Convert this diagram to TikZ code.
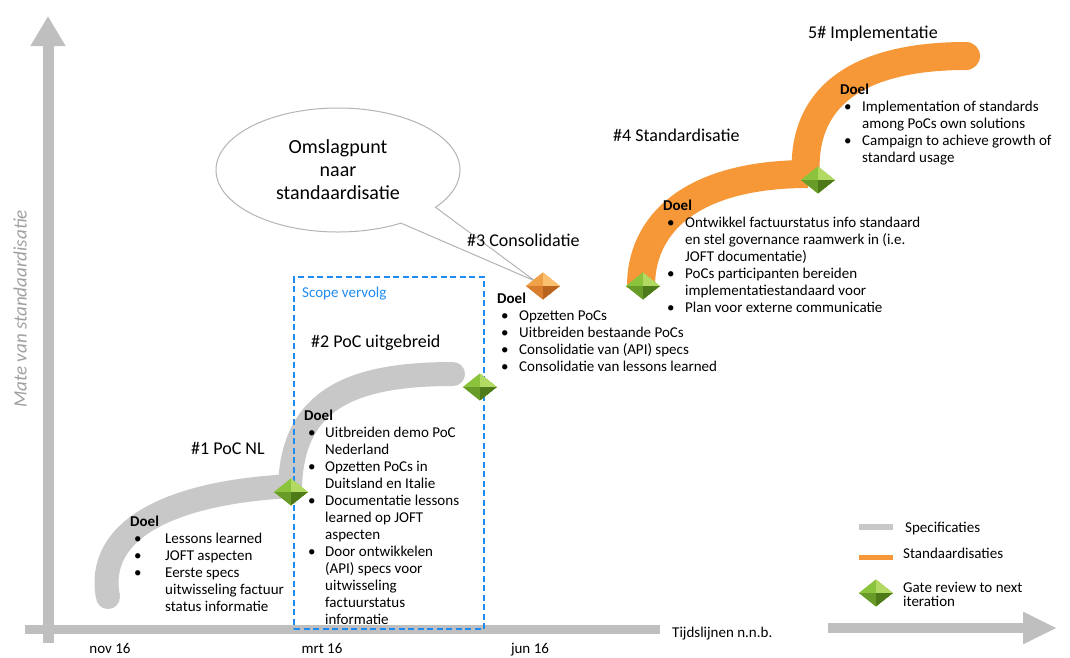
\documentclass[tikz,border=0pt]{standalone}
\usepackage{fontspec}
\setmainfont{Carlito}
\usetikzlibrary{shapes.geometric,shapes.callouts,arrows.meta}
\definecolor{axisgray}{RGB}{191,191,191}
\definecolor{bandgray}{RGB}{200,200,200}
\definecolor{bandorange}{RGB}{247,152,56}
\definecolor{scopeblue}{RGB}{30,140,240}
\definecolor{labelgray}{RGB}{160,160,160}
\definecolor{bubblegray}{RGB}{180,180,180}
\definecolor{gA}{RGB}{140,195,60}
\definecolor{gB}{RGB}{178,218,98}
\definecolor{gC}{RGB}{105,155,40}
\definecolor{gD}{RGB}{78,122,25}
\definecolor{oA}{RGB}{240,160,70}
\definecolor{oB}{RGB}{250,192,112}
\definecolor{oC}{RGB}{215,125,45}
\definecolor{oD}{RGB}{185,100,30}
\newcommand\bu{\hspace*{4pt}\textbullet}
\newcommand\doelblock[2]{\begin{tabular}[t]{@{}p{#1}@{}l@{}}\multicolumn{2}{@{}l@{}}{\textbf{Doel}}\\#2\end{tabular}}
\tikzset{
  facets/.style n args={4}{path picture={
    \fill[#1] (path picture bounding box.north) -- (path picture bounding box.west) -- (path picture bounding box.center) -- cycle;
    \fill[#2] (path picture bounding box.north) -- (path picture bounding box.east) -- (path picture bounding box.center) -- cycle;
    \fill[#3] (path picture bounding box.south) -- (path picture bounding box.west) -- (path picture bounding box.center) -- cycle;
    \fill[#4] (path picture bounding box.south) -- (path picture bounding box.east) -- (path picture bounding box.center) -- cycle;
  }},
  gembase/.style={diamond, minimum width=34pt, minimum height=27pt, inner sep=0pt, outer sep=0pt},
  greengem/.style={gembase, fill=gA, facets={gA}{gB}{gC}{gD}},
  orangegem/.style={gembase, fill=oA, facets={oA}{oB}{oC}{oD}},
  grayband/.style={draw=bandgray, line width=24pt},
  orangeband/.style={draw=bandorange, line width=28pt},
  axisline/.style={draw=axisgray},
  title/.style={font=\fontsize{18}{21}\selectfont, anchor=base west, inner sep=0pt},
  body/.style={font=\fontsize{15}{17}\selectfont, anchor=base west, inner sep=0pt},
  legendtext/.style={font=\fontsize{15}{13.5}\selectfont, anchor=base west, inner sep=0pt},
  tick/.style={font=\fontsize{15}{18}\selectfont, anchor=base, inner sep=0pt},
  scopebox/.style={draw=scopeblue, line width=2pt, dash pattern=on 6pt off 3.5pt, inner sep=0pt, anchor=north west},
  bubble/.style={ellipse callout, draw=bubblegray, line width=1pt, fill=white,
    minimum width=244pt, minimum height=124pt, callout pointer arc=22, inner sep=0pt,
    align=center, font=\fontsize{20}{23}\selectfont},
}
\begin{document}
\begin{tikzpicture}[x=1pt,y=-1pt]
\path[use as bounding box, fill=white] (0,0) rectangle (1070,657);

% axes
\coordinate (yb) at (48,643);
\coordinate (yt) at (48,16);
\coordinate (xl) at (25,629);
\coordinate (xm) at (660,629);
\coordinate (xr) at (828,628);
\coordinate (xt) at (1057,628);
\draw[axisline, line width=11pt, -{Triangle[length=30pt,width=33pt]}] (yb) -- (yt);
\draw[axisline, line width=9pt] (xl) -- (xm);
\draw[axisline, line width=10pt, -{Triangle[length=34pt,width=30pt]}] (xr) -- (xt);

\node[rotate=90, font=\fontsize{19}{21}\selectfont\itshape, text=labelgray, inner sep=0pt] (ylab) at (20,309) {Mate van standaardisatie};
\node[tick] (nov) at (110,653) {nov 16};
\node[tick] (mrt) at (322,653) {mrt 16};
\node[tick] (jun) at (530,653) {jun 16};
\node[body] (tijd) at (672,637) {Tijdslijnen n.n.b.};

% bands
\coordinate (b1s) at (108,597);
\coordinate (b1e) at (292,486);
\coordinate (b2s) at (290,488);
\coordinate (b2e) at (453,374);
\coordinate (b3s) at (641,288);
\coordinate (b3e) at (808,174);
\coordinate (b4s) at (806,178);
\coordinate (b4e) at (966,56);
\draw[grayband] (b1s) .. controls (95,530) and (170,492) .. (b1e);
\fill[bandgray] (b1s) circle (12pt);
\draw[grayband] (b2s) .. controls (292,400) and (350,374) .. (b2e);
\fill[bandgray] (b2e) circle (12pt);
\draw[orangeband] (b3s) .. controls (640,225) and (690,174) .. (b3e);
\draw[orangeband] (b4s) .. controls (800,95) and (860,56) .. (b4e);
\fill[bandorange] (b4e) circle (14pt);

% scope box
\node[scopebox, minimum width=190pt, minimum height=352pt] (scope) at (293,276) {};
\node[body, text=scopeblue] (scopelbl) at (302,297) {Scope vervolg};

% callout
\coordinate (tip) at (535,281);
\node[bubble, callout absolute pointer={(tip)}] (bub) at (338,170) {Omslagpunt\\naar\\standaardisatie};

% gems
\node[greengem] (g1) at (291,492) {};
\node[greengem] (g2) at (480,387) {};
\node[orangegem] (g3) at (543,286) {};
\node[greengem] (g4) at (643,286) {};
\node[greengem] (g5) at (818,180) {};

% titles
\node[title] (t1) at (191,454) {\#1 PoC NL};
\node[title] (t2) at (311,347) {\#2 PoC uitgebreid};
\node[title] (t3) at (467,246) {\#3 Consolidatie};
\node[title] (t4) at (613,141) {\#4 Standardisatie};
\node[title] (t5) at (808,38) {5\# Implementatie};

% goal blocks
\node[body] (d1) at (130,526) {\doelblock{35pt}{\bu & Lessons learned\\ \bu & JOFT aspecten\\ \bu & Eerste specs\\ & uitwisseling factuur\\ & status informatie}};
\node[body] (d2) at (304,420) {\doelblock{21pt}{\bu & Uitbreiden demo PoC\\ & Nederland\\ \bu & Opzetten PoCs in\\ & Duitsland en Italie\\ \bu & Documentatie lessons\\ & learned op JOFT\\ & aspecten\\ \bu & Door ontwikkelen\\ & (API) specs voor\\ & uitwisseling\\ & factuurstatus\\ & informatie}};
\node[body] (d3) at (497,303) {\doelblock{22pt}{\bu & Opzetten PoCs\\ \bu & Uitbreiden bestaande PoCs\\ \bu & Consolidatie van (API) specs\\ \bu & Consolidatie van lessons learned}};
\node[body] (d4) at (663,210) {\doelblock{22pt}{\bu & Ontwikkel factuurstatus info standaard\\ & en stel governance raamwerk in (i.e.\\ & JOFT documentatie)\\ \bu & PoCs participanten bereiden\\ & implementatiestandaard voor\\ \bu & Plan voor externe communicatie}};
\node[body] (d5) at (840,94) {\doelblock{22pt}{\bu & Implementation of standards\\ & among PoCs own solutions\\ \bu & Campaign to achieve growth of\\ & standard usage}};

% legend
\coordinate (l1a) at (859,527);
\coordinate (l1b) at (893,527);
\coordinate (l2a) at (859,557);
\coordinate (l2b) at (893,557);
\draw[draw=bandgray, line width=6pt] (l1a) -- (l1b);
\draw[draw=bandorange, line width=5pt] (l2a) -- (l2b);
\node[greengem] (lg) at (876,593) {};
\node[legendtext] (lt1) at (905,532) {Specificaties};
\node[legendtext] (lt2) at (903,558) {Standaardisaties};
\node[legendtext] (lt3) at (903,592) {\begin{tabular}[t]{@{}l@{}}Gate review to next\\iteration\end{tabular}};
\end{tikzpicture}
\end{document}
